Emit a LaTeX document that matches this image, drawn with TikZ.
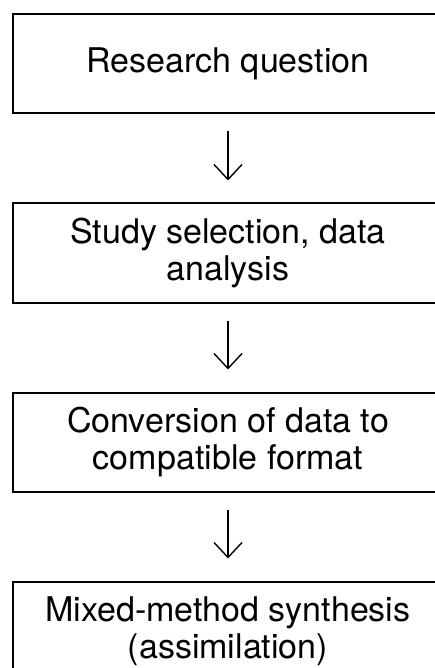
\documentclass[tikz,border=0pt]{standalone}
\usepackage{fontspec}
\setmainfont{TeX Gyre Heros}
\usetikzlibrary{positioning,arrows.meta}

\begin{document}
\begin{tikzpicture}[x=1pt,y=1pt,
    etape/.style={draw, line width=2pt, minimum width=430pt, minimum height=99pt,
        align=center, inner sep=0pt, font=\fontsize{34}{37}\selectfont},
    fleche/.style={-{Straight Barb[length=15pt,width=28pt]}, line width=1.4pt,
        shorten <=17pt, shorten >=22pt}]

    % Cadre de la figure
    \useasboundingbox (0,0) rectangle (435,-668);
    \clip (0,0) rectangle (435,-668);

    % Les étapes
    \node[etape] (question) at (228,-64) {Research question};
    \node[etape, below=88pt of question] (selection) {Study selection, data\\analysis};
    \node[etape, below=88pt of selection] (conversion) {Conversion of data to\\compatible format};
    \node[etape, below=88pt of conversion] (synthese) {Mixed-method synthesis\\(assimilation)};

    % Les flèches
    \draw[fleche] (question) -- (selection);
    \draw[fleche] (selection) -- (conversion);
    \draw[fleche] (conversion) -- (synthese);

\end{tikzpicture}
\end{document}
